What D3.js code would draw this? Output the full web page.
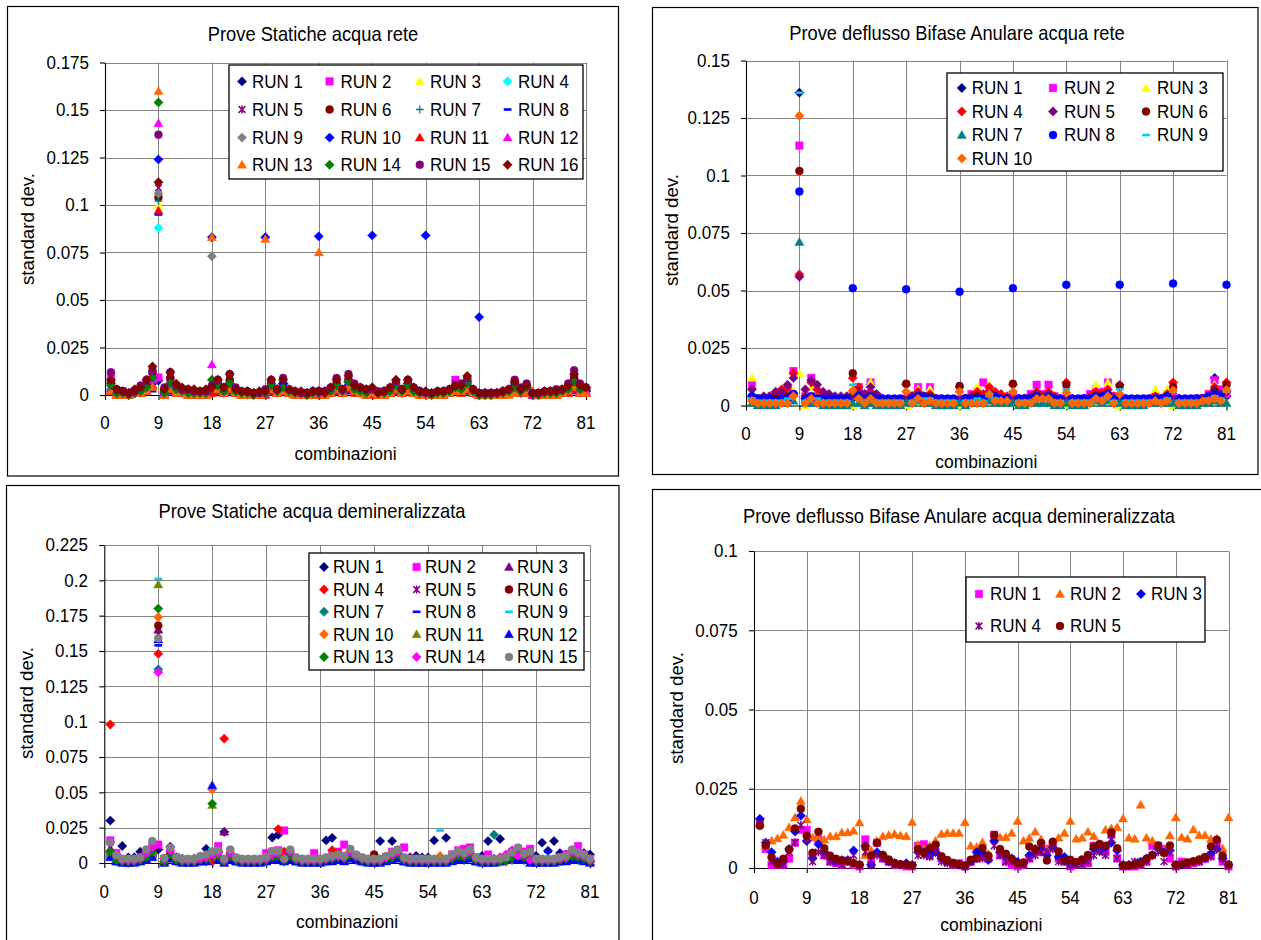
<!DOCTYPE html>
<html><head><meta charset="utf-8">
<script src="https://cdn.jsdelivr.net/npm/d3@7"></script>
<style>body{margin:0;background:#fff}text{font-family:"Liberation Sans",Arial,sans-serif;fill:#000}</style>
</head><body><svg id="c" width="1261" height="940"></svg>
<script>
// ---------- shared categories / ticks ----------
const X_TICKS = [0,9,18,27,36,45,54,63,72,81];
const X_TITLE = "combinazioni";
const Y_TITLE = "standard dev.";

// ---------- Panel 1: Prove Statiche acqua rete ----------
const P1_TITLE = "Prove Statiche acqua rete";
const P1_YTICKS = [0,0.025,0.05,0.075,0.1,0.125,0.15,0.175];
const P1_YLABELS = ["0","0.025","0.05","0.075","0.1","0.125","0.15","0.175"];
const P1_NAMES = ["RUN 1","RUN 2","RUN 3","RUN 4","RUN 5","RUN 6","RUN 7","RUN 8","RUN 9","RUN 10","RUN 11","RUN 12","RUN 13","RUN 14","RUN 15","RUN 16"];
const P1_RUN1 = [.006,.002,.001,.001,.002,.002,.004,.009,.0076, .002,.006,.003,.002,.001,.001,.001,.002,.003, .005,.003,.006,.002,.001,.001,.001,.001,.002, .005,.003,.006,.002,.001,.001,.001,.002,.002, .002,.003,.005,.002,.007,.003,.002,.002,.003, .001,.002,.003,.005,.002,.006,.003,.002,.001, .001,.001,.002,.002,.004,.004,.007,.002,.001, .001,.001,.001,.002,.002,.005,.002,.004,.001, .001,.001,.002,.002,.002,.004,.008,.003,.003];
const P1_RUN2 = [.009,.002,.002,.001,.002,.003,.005,.010,.0092, .002,.008,.003,.002,.002,.001,.001,.001,.003, .005,.002,.006,.002,.001,.001,.001,.001,.001, .005,.002,.005,.002,.001,.001,.001,.001,.001, .001,.002,.005,.002,.007,.003,.002,.001,.002, .001,.001,.002,.005,.002,.006,.002,.001,.001, .001,.001,.001,.002,.008,.004,.007,.002,.000, .000,.000,.001,.001,.002,.006,.002,.004,.000, .000,.001,.001,.001,.002,.004,.009,.003,.002];
const P1_RUN3 = [.002,.000,.000,.000,.001,.001,.002,.005,.100, .000,.002,.001,.001,.000,.000,.000,.000,.001, .002,.001,.002,.001,.000,.000,.000,.000,.001, .002,.001,.002,.001,.000,.000,.000,.000,.001, .000,.001,.002,.001,.003,.001,.001,.000,.001, .000,.000,.001,.002,.001,.002,.001,.000,.000, .000,.000,.000,.001,.002,.001,.002,.001,.000, .000,.000,.000,.000,.001,.002,.001,.001,.000, .000,.000,.000,.000,.001,.001,.003,.001,.001];
const P1_RUN4 = [.003,.001,.001,.000,.001,.001,.003,.006,.088, .001,.003,.002,.001,.001,.001,.001,.001,.002, .003,.001,.003,.001,.001,.000,.000,.001,.001, .003,.001,.003,.001,.001,.000,.000,.001,.001, .001,.001,.003,.001,.004,.002,.001,.001,.002, .001,.001,.001,.003,.001,.003,.001,.001,.001, .000,.001,.001,.002,.003,.002,.003,.001,.000, .000,.000,.001,.001,.001,.003,.001,.002,.000, .000,.001,.001,.001,.001,.002,.004,.001,.002];
const P1_RUN5 = [.004,.001,.001,.000,.001,.002,.004,.008,.109, .001,.005,.002,.002,.001,.001,.001,.001,.002, .004,.002,.005,.001,.001,.001,.000,.001,.001, .004,.001,.004,.001,.001,.001,.000,.001,.001, .001,.002,.004,.001,.005,.002,.002,.001,.002, .001,.001,.002,.004,.001,.004,.002,.001,.001, .000,.001,.001,.002,.006,.003,.006,.001,.000, .000,.000,.001,.001,.002,.004,.001,.003,.000, .000,.001,.001,.001,.002,.003,.006,.002,.002];
const P1_RUN6 = [.007,.002,.002,.001,.002,.003,.006,.012,.104, .002,.009,.004,.003,.002,.002,.002,.002,.003, .006,.003,.008,.002,.001,.001,.001,.001,.002, .006,.002,.006,.002,.001,.001,.001,.001,.002, .001,.003,.006,.002,.008,.004,.003,.002,.003, .001,.002,.003,.006,.002,.006,.003,.002,.001, .001,.001,.002,.002,.004,.004,.008,.002,.001, .001,.001,.001,.001,.002,.006,.002,.004,.001, .001,.001,.002,.002,.002,.004,.009,.004,.003];
const P1_RUN7 = [.002,.000,.000,.000,.001,.001,.002,.004,.102, .001,.002,.001,.001,.000,.000,.000,.000,.001, .002,.001,.002,.001,.000,.000,.000,.000,.001, .002,.001,.002,.001,.000,.000,.000,.000,.001, .000,.001,.002,.001,.003,.001,.001,.000,.001, .000,.000,.001,.002,.001,.002,.001,.000,.000, .000,.000,.000,.001,.002,.001,.002,.001,.000, .000,.000,.000,.000,.001,.002,.001,.001,.000, .000,.000,.000,.000,.001,.001,.003,.001,.001];
const P1_RUN8 = [.001,.000,.000,.000,.000,.001,.001,.002,.095, .000,.001,.001,.000,.000,.000,.000,.000,.001, .001,.000,.001,.000,.000,.000,.000,.000,.000, .001,.000,.001,.000,.000,.000,.000,.000,.000, .000,.000,.001,.000,.001,.001,.000,.000,.000, .000,.000,.000,.001,.000,.001,.000,.000,.000, .000,.000,.000,.000,.001,.001,.001,.000,.000, .000,.000,.000,.000,.000,.001,.000,.001,.000, .000,.000,.000,.000,.000,.001,.001,.000,.000];
const P1_RUN9 = [.003,.001,.001,.000,.001,.002,.003,.007,.106, .001,.004,.002,.001,.001,.001,.001,.001,.073, .003,.001,.004,.001,.001,.001,.000,.001,.001, .003,.002,.003,.001,.001,.001,.000,.001,.001, .001,.002,.003,.002,.004,.002,.001,.001,.002, .001,.001,.002,.003,.001,.003,.002,.001,.001, .000,.001,.001,.002,.003,.002,.004,.001,.000, .000,.000,.001,.001,.002,.003,.001,.002,.000, .000,.001,.001,.001,.002,.003,.005,.002,.002];
const P1_RUN10 = [.002,.001,.001,.001,.001,.002,.003,.006,.124, .001,.004,.002,.002,.001,.001,.001,.001,.083, .003,.002,.004,.002,.001,.001,.001,.001,.083, .003,.002,.006,.002,.001,.001,.001,.001,.0835, .001,.002,.004,.002,.005,.003,.002,.001,.084, .001,.001,.002,.004,.002,.004,.002,.001,.084, .001,.001,.001,.002,.004,.003,.005,.002,.041, .001,.001,.001,.001,.002,.004,.002,.003,.001, .001,.001,.001,.001,.002,.003,.005,.002,.002];
const P1_RUN11 = [.002,.000,.000,.000,.001,.001,.002,.005,.097, .000,.003,.001,.001,.000,.000,.000,.000,.001, .002,.001,.003,.001,.000,.000,.000,.000,.000, .002,.001,.002,.001,.000,.000,.000,.000,.000, .000,.001,.002,.001,.003,.001,.001,.000,.000, .000,.000,.001,.002,.001,.002,.001,.000,.000, .000,.000,.000,.001,.002,.001,.003,.001,.000, .000,.000,.000,.000,.001,.002,.001,.001,.000, .000,.000,.000,.000,.001,.001,.003,.001,.001];
const P1_RUN12 = [.003,.001,.001,.000,.001,.002,.003,.008,.143, .001,.004,.002,.001,.001,.001,.001,.001,.016, .004,.001,.005,.002,.001,.001,.000,.001,.001, .004,.002,.004,.002,.001,.001,.000,.001,.001, .001,.002,.004,.002,.005,.003,.002,.001,.002, .001,.001,.002,.004,.002,.004,.002,.001,.001, .000,.001,.001,.002,.006,.003,.005,.002,.000, .000,.000,.001,.001,.002,.004,.002,.003,.000, .000,.001,.001,.001,.002,.003,.006,.002,.002];
const P1_RUN13 = [.002,.000,.000,.000,.001,.001,.002,.004,.160, .000,.003,.001,.001,.000,.000,.000,.000,.083, .003,.001,.003,.001,.000,.000,.000,.000,.082, .003,.001,.002,.001,.000,.000,.000,.000,.075, .000,.001,.003,.001,.004,.002,.001,.000,.001, .000,.000,.001,.003,.001,.002,.001,.000,.000, .000,.000,.000,.001,.002,.002,.003,.001,.000, .000,.000,.000,.000,.000,.001,.003,.001,.002, .000,.000,.000,.000,.001,.002,.004,.001,.001];
const P1_RUN14 = [.005,.001,.001,.000,.001,.002,.004,.009,.154, .001,.006,.003,.002,.001,.001,.001,.001,.008, .005,.002,.006,.002,.001,.001,.000,.001,.001, .005,.002,.004,.002,.001,.001,.000,.001,.001, .001,.002,.005,.002,.007,.003,.002,.001,.004, .001,.001,.002,.005,.002,.005,.002,.001,.001, .000,.001,.001,.002,.004,.003,.006,.002,.000, .000,.000,.001,.001,.002,.004,.002,.004,.000, .000,.001,.001,.001,.002,.003,.007,.003,.004];
const P1_RUN15 = [.012,.003,.002,.001,.002,.005,.008,.013,.137, .004,.012,.005,.003,.003,.002,.002,.002,.005, .008,.004,.011,.004,.002,.002,.001,.001,.003, .008,.003,.009,.003,.002,.001,.001,.002,.002, .002,.004,.009,.003,.011,.006,.004,.003,.003, .002,.002,.004,.007,.003,.008,.004,.002,.001, .001,.002,.002,.003,.005,.006,.009,.003,.001, .001,.001,.001,.002,.003,.008,.004,.006,.001, .001,.002,.002,.003,.003,.006,.013,.006,.004];
const P1_RUN16 = [.008,.003,.002,.001,.003,.004,.008,.015,.112, .003,.012,.006,.004,.003,.003,.002,.003,.004, .008,.004,.011,.003,.002,.002,.001,.002,.002, .008,.003,.008,.003,.002,.002,.001,.002,.002, .001,.004,.008,.003,.010,.005,.004,.003,.004, .001,.002,.004,.008,.003,.008,.004,.002,.002, .001,.002,.002,.003,.005,.005,.010,.003,.001, .001,.001,.001,.002,.003,.007,.003,.005,.001, .001,.002,.002,.002,.003,.005,.011,.005,.004];

// ---------- Panel 2: Prove deflusso Bifase Anulare acqua rete ----------
const P2_TITLE = "Prove deflusso Bifase Anulare acqua rete";
const P2_YTICKS = [0,0.025,0.05,0.075,0.1,0.125,0.15];
const P2_YLABELS = ["0","0.025","0.05","0.075","0.1","0.125","0.15"];
const P2_NAMES = ["RUN 1","RUN 2","RUN 3","RUN 4","RUN 5","RUN 6","RUN 7","RUN 8","RUN 9","RUN 10"];
const P2_RUN1 = [.004,.002,.003,.003,.002,.003,.004,.005,.136, .003,.003,.003,.002,.002,.002,.002,.002,.003, .003,.002,.009,.002,.002,.002,.002,.002,.002, .003,.003,.003,.003,.002,.002,.002,.002,.002, .003,.003,.004,.003,.006,.004,.003,.003,.004, .003,.003,.003,.004,.004,.004,.003,.002,.002, .002,.002,.002,.003,.004,.004,.005,.003,.003, .002,.002,.002,.002,.002,.003,.002,.003,.003, .003,.002,.002,.002,.002,.003,.012,.005,.004];
const P2_RUN2 = [.009,.003,.003,.003,.003,.003,.006,.015,.113, .004,.012,.004,.003,.003,.002,.002,.003,.005, .008,.005,.010,.004,.002,.002,.002,.002,.003, .004,.008,.004,.008,.003,.002,.002,.002,.002, .003,.005,.006,.010,.006,.004,.003,.002,.004, .002,.003,.005,.009,.005,.009,.004,.002,.003, .002,.002,.003,.005,.007,.006,.010,.004,.003, .002,.002,.002,.002,.003,.004,.003,.005,.004, .002,.002,.002,.003,.003,.005,.011,.007,.005];
const P2_RUN3 = [.012,.003,.002,.002,.001,.002,.004,.006,.014, .000,.008,.004,.002,.001,.001,.001,.002,.000, .004,.002,.010,.003,.001,.001,.001,.001,.000, .004,.007,.004,.007,.002,.001,.001,.001,.000, .002,.003,.008,.004,.009,.003,.002,.001,.001, .001,.002,.003,.006,.003,.005,.002,.001,.000, .001,.001,.002,.003,.009,.004,.010,.003,.000, .001,.001,.001,.001,.003,.007,.003,.007,.000, .001,.001,.001,.002,.002,.004,.009,.004,.001];
const P2_RUN4 = [.004,.003,.003,.004,.005,.007,.008,.014,.057, .004,.010,.007,.005,.004,.003,.003,.003,.012, .008,.004,.006,.004,.003,.002,.002,.002,.009, .004,.006,.004,.005,.003,.002,.002,.002,.008, .003,.004,.006,.005,.008,.006,.005,.004,.009, .003,.003,.004,.006,.004,.006,.004,.003,.010, .003,.002,.003,.004,.006,.005,.007,.004,.009, .003,.002,.002,.002,.003,.004,.003,.005,.010, .003,.002,.002,.003,.003,.004,.008,.005,.010];
const P2_RUN5 = [.007,.003,.004,.004,.006,.006,.009,.012,.056, .007,.011,.009,.006,.005,.004,.004,.004,.004, .006,.005,.008,.005,.003,.002,.002,.002,.003, .004,.005,.004,.004,.003,.002,.002,.002,.003, .003,.004,.004,.003,.005,.004,.003,.003,.003, .003,.003,.004,.005,.004,.005,.003,.003,.003, .002,.002,.003,.003,.004,.003,.005,.003,.003, .002,.002,.002,.002,.002,.003,.003,.004,.003, .002,.002,.002,.002,.003,.004,.007,.005,.006];
const P2_RUN6 = [.003,.002,.002,.002,.003,.003,.004,.005,.102, .002,.003,.003,.002,.002,.002,.002,.003,.014, .004,.003,.004,.003,.002,.002,.002,.002,.0095, .003,.004,.003,.004,.002,.002,.002,.002,.0085, .003,.003,.004,.003,.005,.003,.002,.002,.0095, .002,.002,.003,.004,.003,.004,.003,.002,.009, .002,.002,.002,.003,.004,.003,.004,.002,.0085, .002,.002,.002,.002,.002,.003,.002,.003,.008, .002,.002,.002,.002,.003,.004,.006,.004,.009];
const P2_RUN7 = [.001,.000,.000,.000,.000,.001,.001,.002,.071, .001,.001,.001,.000,.000,.000,.000,.000,.001, .001,.000,.001,.000,.000,.000,.000,.000,.001, .001,.002,.001,.001,.000,.000,.000,.000,.001, .000,.001,.001,.001,.002,.001,.001,.001,.001, .000,.000,.001,.001,.001,.001,.000,.000,.001, .000,.000,.000,.001,.002,.001,.002,.001,.001, .000,.000,.000,.000,.001,.001,.001,.001,.001, .000,.000,.000,.000,.001,.001,.002,.001,.001];
const P2_RUN8 = [.004,.003,.003,.003,.002,.003,.003,.005,.093, .003,.004,.003,.003,.003,.003,.003,.003,.051, .004,.003,.004,.003,.003,.003,.003,.003,.0505, .003,.004,.004,.003,.003,.003,.003,.003,.0495, .003,.003,.003,.003,.005,.004,.003,.003,.051, .003,.003,.003,.004,.003,.004,.003,.003,.0525, .003,.003,.003,.003,.004,.004,.005,.003,.0525, .003,.003,.003,.003,.003,.003,.003,.004,.053, .003,.003,.003,.003,.003,.004,.005,.004,.0525];
const P2_RUN9 = [.003,.002,.002,.002,.002,.002,.003,.004,.136, .002,.003,.003,.002,.002,.002,.002,.002,.009, .003,.002,.003,.002,.002,.002,.002,.002,.006, .002,.003,.003,.003,.002,.002,.002,.002,.006, .002,.002,.003,.002,.004,.003,.002,.002,.006, .002,.002,.002,.003,.002,.003,.002,.002,.007, .002,.002,.002,.002,.003,.003,.004,.002,.007, .002,.002,.002,.002,.002,.002,.002,.003,.006, .002,.002,.002,.002,.002,.003,.004,.003,.006];
const P2_RUN10 = [.002,.001,.001,.001,.001,.001,.001,.004,.126, .001,.003,.001,.001,.001,.001,.001,.001,.0065, .003,.001,.003,.001,.001,.001,.001,.001,.006, .001,.003,.001,.002,.001,.001,.001,.001,.006, .001,.001,.001,.001,.005,.002,.002,.002,.006, .001,.001,.001,.003,.003,.003,.001,.001,.0055, .001,.001,.001,.001,.003,.002,.004,.001,.005, .001,.001,.001,.001,.001,.002,.001,.002,.0065, .001,.001,.001,.001,.002,.002,.003,.002,.0068];

// ---------- Panel 3: Prove Statiche acqua demineralizzata ----------
const P3_TITLE = "Prove Statiche acqua demineralizzata";
const P3_YTICKS = [0,0.025,0.05,0.075,0.1,0.125,0.15,0.175,0.2,0.225];
const P3_YLABELS = ["0","0.025","0.05","0.075","0.1","0.125","0.15","0.175","0.2","0.225"];
const P3_NAMES = ["RUN 1","RUN 2","RUN 3","RUN 4","RUN 5","RUN 6","RUN 7","RUN 8","RUN 9","RUN 10","RUN 11","RUN 12","RUN 13","RUN 14","RUN 15"];
const P3_RUN1 = [.030,.006,.012,.004,.004,.008,.005,.006,.0095, .003,.0115,.004,.003,.002,.003,.002,.010,.004, .008,.022,.004,.003,.002,.002,.002,.002,.003, .018,.020,.004,.004,.003,.002,.002,.002,.002, .016,.0178,.005,.004,.004,.003,.002,.002,.003, .0155,.003,.0155,.004,.003,.004,.005,.004,.004, .016,.003,.0178,.004,.004,.008,.005,.003,.005, .0155,.003,.017,.003,.004,.005,.004,.004,.005, .0144,.0086,.0155,.007,.006,.004,.005,.007,.006];
const P3_RUN2 = [.016,.007,.002,.002,.002,.003,.007,.012,.013, .003,.009,.004,.002,.002,.002,.003,.004,.007, .012,.002,.008,.003,.002,.002,.002,.002,.007, .008,.009,.023,.008,.003,.002,.002,.007,.002, .003,.005,.008,.013,.009,.005,.003,.002,.003, .002,.004,.008,.009,.011,.003,.003,.002,.002, .002,.002,.002,.006,.009,.010,.011,.004,.002, .006,.002,.002,.004,.008,.010,.008,.010,.003, .002,.002,.002,.004,.006,.008,.012,.006,.003];
const P3_RUN3 = [.010,.002,.001,.001,.001,.002,.003,.007,.165, .001,.004,.002,.001,.001,.001,.001,.002,.005, .003,.022,.004,.001,.001,.001,.001,.001,.002, .003,.004,.002,.004,.001,.001,.001,.001,.001, .002,.002,.003,.002,.005,.003,.001,.001,.001, .001,.002,.004,.004,.001,.001,.001,.001,.001, .001,.001,.001,.002,.004,.003,.004,.001,.001, .001,.001,.001,.002,.003,.004,.003,.003,.001, .001,.001,.001,.001,.002,.003,.003,.002,.001];
const P3_RUN4 = [.098,.002,.001,.001,.001,.002,.004,.010,.148, .001,.005,.002,.001,.001,.001,.002,.001,.001, .004,.088,.005,.002,.001,.001,.001,.001,.002, .004,.024,.008,.004,.002,.001,.001,.001,.001, .003,.009,.007,.003,.006,.003,.002,.001,.001, .001,.003,.004,.005,.002,.001,.001,.001,.001, .001,.001,.001,.003,.004,.003,.005,.002,.001, .001,.001,.004,.002,.003,.005,.003,.004,.001, .001,.001,.001,.002,.002,.004,.003,.002,.001];
const P3_RUN5 = [.011,.002,.001,.001,.001,.002,.004,.007,.162, .001,.005,.002,.001,.001,.001,.002,.002,.005, .004,.001,.004,.002,.001,.001,.001,.001,.002, .004,.004,.002,.004,.002,.001,.001,.001,.001, .002,.003,.004,.003,.005,.003,.002,.001,.001, .001,.003,.004,.005,.002,.001,.001,.001,.001, .001,.001,.001,.003,.004,.003,.005,.002,.001, .001,.001,.001,.002,.003,.005,.003,.004,.001, .001,.001,.001,.002,.002,.004,.003,.002,.001];
const P3_RUN6 = [.007,.002,.001,.001,.001,.002,.004,.008,.168, .001,.006,.002,.001,.001,.001,.002,.002,.005, .004,.001,.005,.002,.001,.001,.001,.001,.002, .004,.005,.002,.005,.002,.001,.001,.001,.001, .002,.003,.004,.003,.006,.003,.002,.001,.006, .001,.004,.004,.006,.002,.001,.001,.001,.001, .001,.001,.001,.003,.005,.004,.006,.002,.001, .001,.001,.001,.002,.004,.006,.004,.004,.001, .001,.001,.001,.002,.003,.005,.004,.003,.001];
const P3_RUN7 = [.005,.001,.001,.000,.001,.001,.003,.005,.137, .001,.004,.001,.001,.001,.001,.001,.002,.007, .003,.001,.003,.001,.001,.001,.001,.001,.001, .003,.003,.001,.003,.001,.001,.001,.001,.001, .001,.002,.003,.002,.004,.002,.001,.001,.001, .001,.002,.003,.004,.001,.001,.001,.001,.001, .001,.001,.001,.002,.003,.002,.004,.001,.001, .001,.020,.001,.001,.002,.004,.002,.003,.001, .001,.001,.001,.001,.002,.003,.002,.002,.001];
const P3_RUN8 = [.003,.001,.000,.000,.000,.001,.002,.003,.154, .000,.002,.001,.000,.000,.000,.001,.001,.006, .002,.000,.002,.001,.000,.000,.000,.000,.001, .002,.002,.001,.002,.001,.000,.000,.000,.000, .001,.001,.002,.001,.002,.001,.001,.000,.000, .000,.001,.002,.002,.001,.000,.000,.000,.000, .000,.000,.000,.001,.002,.001,.002,.001,.000, .000,.000,.001,.002,.002,.001,.002,.001,.000, .000,.008,.001,.001,.001,.002,.002,.001,.000];
const P3_RUN9 = [.005,.001,.001,.001,.001,.001,.003,.005,.201, .001,.004,.002,.001,.001,.001,.001,.002,.010, .003,.001,.003,.001,.001,.001,.001,.001,.001, .003,.003,.001,.003,.001,.001,.001,.001,.001, .001,.002,.003,.002,.004,.002,.001,.001,.001, .001,.002,.003,.004,.001,.001,.001,.001,.001, .001,.023,.001,.002,.003,.002,.004,.001,.001, .001,.001,.001,.002,.004,.002,.003,.001,.001, .001,.001,.001,.001,.002,.003,.002,.002,.001];
const P3_RUN10 = [.007,.002,.001,.001,.001,.002,.004,.007,.174, .001,.005,.002,.001,.001,.001,.002,.002,.052, .004,.001,.004,.002,.001,.001,.001,.001,.002, .004,.004,.002,.004,.002,.001,.001,.001,.001, .002,.003,.004,.002,.005,.003,.002,.001,.001, .001,.003,.004,.005,.002,.001,.001,.001,.001, .002,.005,.001,.003,.004,.003,.005,.002,.001, .001,.001,.001,.002,.003,.005,.003,.004,.001, .001,.001,.001,.002,.002,.004,.003,.002,.001];
const P3_RUN11 = [.006,.001,.001,.000,.001,.001,.003,.006,.197, .001,.004,.002,.001,.001,.001,.001,.002,.041, .004,.001,.004,.001,.001,.001,.001,.001,.001, .003,.003,.001,.004,.001,.001,.001,.001,.001, .001,.002,.003,.002,.005,.003,.001,.001,.001, .001,.002,.006,.005,.001,.001,.001,.000,.001, .001,.001,.001,.002,.004,.003,.005,.001,.001, .001,.001,.001,.002,.003,.005,.003,.004,.001, .001,.001,.001,.001,.002,.004,.003,.002,.001];
const P3_RUN12 = [.004,.001,.000,.000,.000,.001,.002,.004,.158, .000,.003,.001,.000,.000,.000,.001,.001,.055, .002,.000,.002,.001,.000,.000,.000,.000,.001, .002,.002,.001,.002,.001,.000,.000,.000,.000, .001,.001,.002,.001,.003,.002,.001,.000,.000, .000,.001,.002,.003,.001,.000,.000,.000,.000, .000,.000,.000,.001,.002,.002,.003,.001,.000, .000,.000,.001,.002,.003,.002,.002,.000,.000, .000,.000,.000,.001,.001,.002,.002,.001,.000];
const P3_RUN13 = [.008,.002,.001,.001,.001,.002,.004,.008,.180, .001,.006,.002,.001,.001,.001,.002,.003,.042, .005,.001,.005,.002,.001,.001,.001,.001,.002, .004,.005,.002,.005,.002,.001,.001,.001,.001, .002,.003,.004,.003,.006,.004,.002,.001,.001, .001,.003,.004,.006,.002,.001,.001,.001,.001, .001,.001,.001,.003,.005,.004,.006,.002,.001, .001,.001,.001,.002,.004,.006,.004,.005,.001, .001,.001,.001,.002,.003,.005,.004,.003,.001];
const P3_RUN14 = [.015,.006,.002,.002,.002,.003,.007,.011,.135, .003,.009,.004,.002,.002,.002,.003,.004,.006, .007,.002,.007,.003,.002,.002,.002,.002,.003, .006,.007,.003,.008,.003,.002,.002,.002,.002, .003,.004,.005,.004,.008,.005,.003,.002,.002, .002,.004,.006,.008,.003,.002,.002,.002,.002, .002,.002,.002,.005,.007,.006,.008,.003,.002, .002,.002,.003,.006,.009,.005,.006,.002,.002, .002,.002,.002,.003,.004,.008,.006,.005,.002];
const P3_RUN15 = [.0145,.0055,.003,.003,.003,.004,.0095,.0155,.159, .0035,.011,.0045,.003,.003,.003,.005,.006,.008, .009,.003,.0095,.004,.003,.003,.003,.003,.0045, .0085,.0085,.003,.0095,.004,.003,.003,.003,.003, .004,.005,.006,.005,.010,.006,.004,.003,.003, .003,.005,.0075,.0095,.004,.003,.003,.003,.003, .003,.003,.003,.006,.0085,.007,.0095,.004,.003, .003,.003,.003,.004,.0075,.011,.0065,.008,.003, .003,.003,.003,.004,.005,.0095,.0075,.006,.003];

// ---------- Panel 4: Prove deflusso Bifase Anulare acqua demineralizzata ----------
const P4_TITLE = "Prove deflusso Bifase Anulare acqua demineralizzata";
const P4_YTICKS = [0,0.025,0.05,0.075,0.1];
const P4_YLABELS = ["0","0.025","0.05","0.075","0.1"];
const P4_NAMES = ["RUN 1","RUN 2","RUN 3","RUN 4","RUN 5"];
const P4_RUN1 = [.014,.006,.001,.001,.001,.003,.008,.012,.012, .004,.009,.004,.002,.0015,.001,.002,.001,.0005, .009,.0015,.008,.003,.002,.001,.001,.0005,.0005, .007,.0075,.004,.005,.003,.002,.001,.0015,.0005, .002,.003,.004,.003,.0105,.004,.002,.001,.0005, .001,.003,.005,.005,.006,.007,.003,.002,.0005, .001,.0015,.0015,.007,.006,.005,.0105,.003,.0005, .0005,.0005,.001,.002,.007,.007,.006,.003,.0005, .002,.001,.0015,.002,.003,.004,.008,.002,.0005];
const P4_RUN2 = [.014,.007,.0086,.0093,.0104,.0128,.0159,.0211,.0153, .0096,.0096,.0089,.0100,.0100,.0112,.0112,.0117,.0143, .0040,.0055,.0086,.0100,.0104,.0107,.0102,.0100,.0145, .0073,.0060,.0070,.0086,.0107,.0110,.0110,.0110,.0144, .0070,.0066,.0081,.0045,.0095,.0097,.0097,.0110,.0148, .0086,.0094,.0114,.0090,.0060,.0082,.0095,.0110,.0148, .0092,.0095,.0114,.0100,.0075,.0120,.0125,.0128,.0156, .0095,.0092,.0199,.0095,.0086,.0070,.0055,.0102,.0159, .0097,.0092,.0121,.0103,.0103,.0091,.0093,.0061,.0159];
const P4_RUN3 = [.0155,.008,.005,.002,.002,.006,.0115,.0165,.0085, .003,.0075,.005,.003,.002,.0025,.0025,.0055,.001, .007,.001,.005,.004,.002,.0015,.001,.0015,.001, .005,.005,.004,.005,.003,.002,.0015,.001,.0005, .002,.005,.005,.0025,.0085,.005,.004,.003,.002, .0015,.004,.006,.006,.004,.0065,.0035,.0035,.001, .0015,.002,.003,.006,.0055,.0065,.008,.0055,.001, .001,.0015,.002,.003,.004,.006,.005,.0055,.001, .001,.0015,.002,.0025,.003,.0045,.006,.003,.001];
const P4_RUN4 = [.014,.008,.002,.001,.001,.005,.008,.0135,.009, .002,.005,.004,.002,.002,.001,.0025,.004,.001, .005,.001,.004,.003,.002,.001,.001,.001,.001, .004,.004,.0035,.005,.002,.0015,.001,.001,.0005, .002,.003,.003,.003,.007,.004,.002,.002,.001, .001,.003,.004,.005,.005,.006,.002,.002,.001, .001,.001,.002,.004,.005,.004,.009,.003,.0005, .001,.002,.001,.002,.004,.005,.002,.005,.0005, .001,.001,.002,.002,.003,.0035,.006,.003,.001];
const P4_RUN5 = [.0133,.0071,.0034,.0013,.0029,.0058,.0125,.0187,.0102, .0048,.0114,.0062,.0039,.0029,.0024,.0021,.0016,.0010, .0068,.0039,.0079,.0041,.0027,.0016,.0012,.0010,.0008, .0060,.0048,.0062,.0073,.0037,.0025,.0016,.0012,.0008, .0026,.0031,.0062,.0039,.0104,.0060,.0045,.0029,.0013, .0017,.0068,.0058,.0079,.0024,.0083,.0052,.0024,.0026, .0019,.0027,.0041,.0068,.0076,.0070,.0112,.0062,.0008, .0008,.0010,.0016,.0029,.0041,.0071,.0047,.0071,.0010, .0012,.0017,.0021,.0027,.0035,.0068,.0089,.0039,.0010];

// ---------- styles (kept apart from data) ----------
const C = {navy:"#000080",mag:"#FF00FF",yel:"#FFFF00",cyan:"#00FFFF",pur:"#800080",mar:"#800000",teal:"#008080",blue:"#0000FF",gray:"#808080",red:"#FF0000",ora:"#FF6600",grn:"#008000",sky:"#00CCFF",olive:"#808000"};
const P1_STYLE = [["diamond",C.navy],["square",C.mag],["triangle",C.yel],["diamond",C.cyan],["star",C.pur],["circle",C.mar],["plus",C.teal],["dash",C.blue],["diamond",C.gray],["diamond",C.blue],["triangle",C.red],["triangle",C.mag],["triangle",C.ora],["diamond",C.grn],["circle",C.pur],["diamond",C.mar]];
const P2_STYLE = [["diamond",C.navy],["square",C.mag],["triangle",C.yel],["diamond",C.red],["diamond",C.pur],["circle",C.mar],["triangle",C.teal],["circle",C.blue],["dash",C.sky],["diamond",C.ora]];
const P3_STYLE = [["diamond",C.navy],["square",C.mag],["triangle",C.pur],["diamond",C.red],["star",C.pur],["circle",C.mar],["diamond",C.teal],["dash",C.blue],["dash",C.sky],["diamond",C.ora],["triangle",C.olive],["triangle",C.blue],["diamond",C.grn],["diamond",C.mag],["circle",C.gray]];
const P4_STYLE = [["square",C.mag],["triangle",C.ora],["diamond",C.blue],["star",C.pur],["circle",C.mar]];

const PANELS = [
 {title:P1_TITLE, yt:P1_YTICKS, yl:P1_YLABELS, names:P1_NAMES, style:P1_STYLE,
  series:[P1_RUN1,P1_RUN2,P1_RUN3,P1_RUN4,P1_RUN5,P1_RUN6,P1_RUN7,P1_RUN8,P1_RUN9,P1_RUN10,P1_RUN11,P1_RUN12,P1_RUN13,P1_RUN14,P1_RUN15,P1_RUN16],
  box:[7.5,6.5,618.5,476], x0:105, x1:586, yb:395, ytop:62.5, titleXY:[313,41], ylabXY:[34,229], xlabY:460, xtickY:429, ytickR:89,
  leg:{box:[229,65,583,179], rows:[81.4,109.5,137.6,164.8], mx:[242,329.6,419.8,507.6], tx:[252,340.4,430,518], cols:4}},
 {title:P2_TITLE, yt:P2_YTICKS, yl:P2_YLABELS, names:P2_NAMES, style:P2_STYLE,
  series:[P2_RUN1,P2_RUN2,P2_RUN3,P2_RUN4,P2_RUN5,P2_RUN6,P2_RUN7,P2_RUN8,P2_RUN9,P2_RUN10],
  box:[652.5,7.5,1258,474.5], x0:746, x1:1226.5, yb:405.5, ytop:60.5, titleXY:[957,39.5], ylabXY:[677.5,230], xlabY:468, xtickY:440, ytickR:730,
  leg:{box:[947,73,1223,171], rows:[88,111.5,135,158.5], mx:[961.8,1053,1146], tx:[971.7,1064,1157], cols:3}},
 {title:P3_TITLE, yt:P3_YTICKS, yl:P3_YLABELS, names:P3_NAMES, style:P3_STYLE,
  series:[P3_RUN1,P3_RUN2,P3_RUN3,P3_RUN4,P3_RUN5,P3_RUN6,P3_RUN7,P3_RUN8,P3_RUN9,P3_RUN10,P3_RUN11,P3_RUN12,P3_RUN13,P3_RUN14,P3_RUN15],
  box:[6.5,485.5,619,950], x0:104.3, x1:590, yb:863, ytop:545, titleXY:[312,518], ylabXY:[33,703], xlabY:928, xtickY:898, ytickR:88,
  leg:{box:[309,553,584,670], rows:[567,589.5,611.8,634.3,657], mx:[324,416.6,509], tx:[333,425,517], cols:3}},
 {title:P4_TITLE, yt:P4_YTICKS, yl:P4_YLABELS, names:P4_NAMES, style:P4_STYLE,
  series:[P4_RUN1,P4_RUN2,P4_RUN3,P4_RUN4,P4_RUN5],
  box:[652.5,489.5,1265,950], x0:754, x1:1228.5, yb:868, ytop:551, titleXY:[959,523], ylabXY:[682.5,708], xlabY:931, xtickY:903.5, ytickR:737.7,
  leg:{box:[966,577,1205,642], rows:[594,626], mx:[979,1060,1141], tx:[990,1070,1151], cols:3}}
];

const SHAPE = {
  diamond:"M0,-4.7L4.7,0L0,4.7L-4.7,0Z",
  square:"M-3.8,-3.8H3.8V3.8H-3.8Z",
  triangle:"M0,-4.6L4.6,3.4H-4.6Z",
  circle:"M4,0A4,4,0,1,1,-4,0A4,4,0,1,1,4,0Z",
  star:"M-3.4,-3.4L3.4,3.4M-3.4,3.4L3.4,-3.4M0,-4.1V4.1",
  plus:"M-3.9,0H3.9M0,-3.9V3.9",
  dash:"M-3.9,0H3.9"
};
const STROKED = {star:1.5, plus:1.3, dash:2.6};

const svg = d3.select("#c");
const VS = 1.07;
function txt(p, x, y, s, size, anchor, rot){
  return p.append("text")
    .attr("transform", `translate(${x},${y}) scale(1,${VS})` + (rot ? ` rotate(${rot})` : ""))
    .attr("text-anchor", anchor).attr("font-size", size).text(s);
}
function marker(sel, shape, color){
  sel.attr("d", SHAPE[shape]);
  if (STROKED[shape]) sel.attr("fill","none").attr("stroke",color).attr("stroke-width",STROKED[shape]);
  else sel.attr("fill",color).attr("stroke",color).attr("stroke-width",0.4);
}

PANELS.forEach(P => {
  const g = svg.append("g");
  const [bx0,by0,bx1,by1] = P.box;
  g.append("rect").attr("x",bx0).attr("y",by0).attr("width",bx1-bx0).attr("height",by1-by0)
    .attr("fill","#fff").attr("stroke","#000").attr("stroke-width",1.2);

  const x = d3.scaleLinear().domain([0,81]).range([P.x0,P.x1]);
  const y = d3.scaleLinear().domain([0,P.yt[P.yt.length-1]]).range([P.yb,P.ytop]);

  // gridlines
  g.append("g").selectAll("line").data(P.yt.slice(1)).join("line")
    .attr("x1",P.x0).attr("x2",P.x1).attr("y1",d=>Math.round(y(d))+0.5).attr("y2",d=>Math.round(y(d))+0.5)
    .attr("stroke","#858585").attr("stroke-width",1);
  g.append("g").selectAll("line").data(X_TICKS.slice(1)).join("line")
    .attr("y1",P.ytop).attr("y2",P.yb).attr("x1",d=>Math.round(x(d))+0.5).attr("x2",d=>Math.round(x(d))+0.5)
    .attr("stroke","#858585").attr("stroke-width",1);

  // axes (tick marks only; labels placed with the same scales)
  const ax = g.append("g").attr("transform",`translate(0,${P.yb})`)
    .call(d3.axisBottom(x).tickValues(X_TICKS).tickSize(5).tickSizeOuter(0).tickFormat(""));
  const ay = g.append("g").attr("transform",`translate(${P.x0},0)`)
    .call(d3.axisLeft(y).tickValues(P.yt).tickSize(5).tickSizeOuter(0).tickFormat(""));
  [ax,ay].forEach(a => { a.selectAll("path,line").attr("stroke","#000").attr("stroke-width",1.1); });

  X_TICKS.forEach(t => txt(g, x(t), P.xtickY, String(t), 17, "middle"));
  P.yt.forEach((t,i) => txt(g, P.ytickR, y(t)+6.4, P.yl[i], 17, "end"));

  txt(g, P.titleXY[0], P.titleXY[1], P.title, 18.3, "middle");
  txt(g, (P.x0+P.x1)/2, P.xlabY, X_TITLE, 17.5, "middle");
  txt(g, P.ylabXY[0], P.ylabXY[1], Y_TITLE, 17.5, "middle", -90);

  // series
  P.series.forEach((vals, si) => {
    const [shape,color] = P.style[si];
    g.append("g").selectAll("path").data(vals).join("path")
      .attr("transform",(d,i)=>`translate(${x(i+1)},${y(d)})`)
      .call(marker, shape, color);
  });

  // legend
  const L = P.leg;
  g.append("rect").attr("x",L.box[0]).attr("y",L.box[1]).attr("width",L.box[2]-L.box[0]).attr("height",L.box[3]-L.box[1])
    .attr("fill","#fff").attr("stroke","#000").attr("stroke-width",1.3);
  P.names.forEach((nm,i) => {
    const r = Math.floor(i/L.cols), c = i % L.cols;
    const [shape,color] = P.style[i];
    g.append("path").attr("transform",`translate(${L.mx[c]},${L.rows[r]})`).call(marker, shape, color);
    txt(g, L.tx[c], L.rows[r]+6.4, nm, 17, "start");
  });
});
</script></body></html>
